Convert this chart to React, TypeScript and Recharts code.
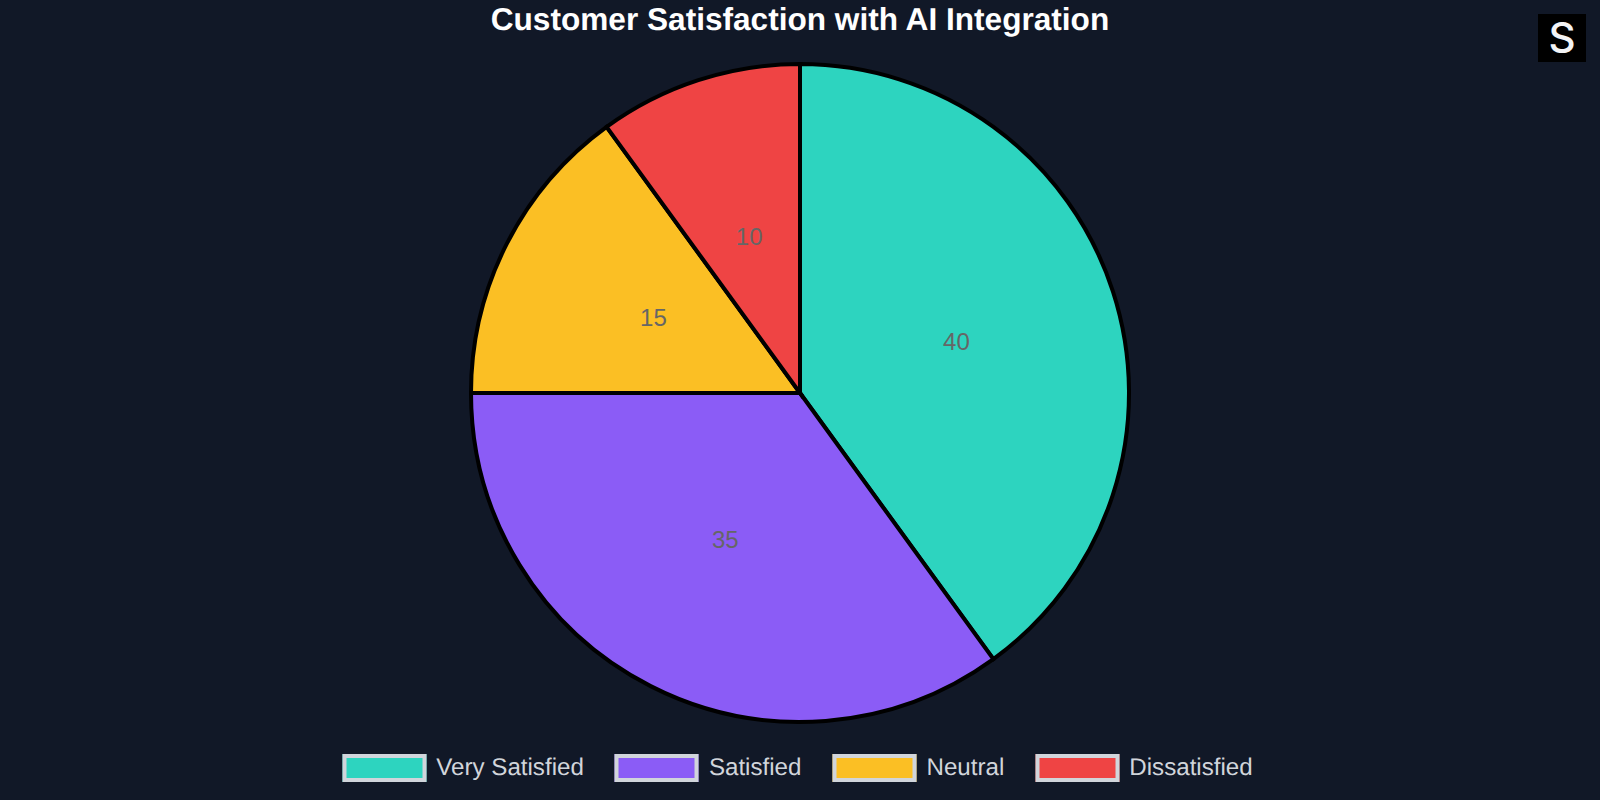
import React from "react";
import { PieChart, Pie, Cell, Legend } from "recharts";

const categories = ["Very Satisfied", "Satisfied", "Neutral", "Dissatisfied"];
const values = [40, 35, 15, 10];
const colors = ["#2DD4BF", "#8B5CF6", "#FBBF24", "#EF4444"];
const data = categories.map((name, i) => ({ name, value: values[i] }));
const FONT = '"Liberation Sans", Arial, sans-serif';
const RAD = Math.PI / 180;

const renderLabel = (p: any) => {
  const r = p.outerRadius / 2;
  const x = p.cx + r * Math.cos(-p.midAngle * RAD);
  const y = p.cy + r * Math.sin(-p.midAngle * RAD) - 0.4;
  return (
    <text x={x} y={y} fill="#666666" fontSize={24} fontFamily={FONT} textAnchor="middle" dominantBaseline="central">
      {p.value}
    </text>
  );
};

const renderLegend = () => (
  <div style={{ display: "flex", justifyContent: "center", alignItems: "center", fontFamily: FONT, transform: "translateX(-2.5px)" }}>
    {categories.map((c, i) => (
      <div key={c} style={{ display: "flex", alignItems: "center", marginRight: i < categories.length - 1 ? 31 : 0 }}>
        <span style={{ boxSizing: "border-box", width: 84, height: 28, background: colors[i], border: "4px solid #D1D5DB", marginRight: 10 }} />
        <span style={{ color: "#D1D5DB", fontSize: 24.15, lineHeight: "30px", whiteSpace: "nowrap", textRendering: "geometricPrecision" }}>{c}</span>
      </div>
    ))}
  </div>
);

export default function App() {
  return (
    <div style={{ position: "absolute", left: 0, top: 0, width: 1600, height: 800, background: "#111827", overflow: "hidden" }}>
      <div style={{ position: "absolute", left: 0, top: 0, width: 1600, textAlign: "center", fontFamily: FONT, fontWeight: 700, fontSize: 31.6, lineHeight: "38px", color: "#FFFFFF", textRendering: "geometricPrecision" }}>
        Customer Satisfaction with AI Integration
      </div>
      <PieChart width={1600} height={800} margin={{ top: 0, right: 0, bottom: 0, left: 0 }}>
        <Pie
          data={data}
          dataKey="value"
          nameKey="name"
          cx={800}
          cy={393}
          innerRadius={0}
          outerRadius={329}
          startAngle={90}
          endAngle={-270}
          stroke="#000000"
          strokeWidth={4}
          label={renderLabel}
          labelLine={false}
          isAnimationActive={false}
        >
          {data.map((d, i) => (
            <Cell key={d.name} fill={colors[i]} stroke="#000000" strokeWidth={4} />
          ))}
        </Pie>
        <Legend content={renderLegend} verticalAlign="bottom" wrapperStyle={{ bottom: 17, left: 0, width: 1600 }} />
      </PieChart>
      <div style={{ position: "absolute", left: 1538, top: 14, width: 48, height: 48, background: "#000000", color: "#F3F4F6", fontFamily: "Inter, sans-serif", fontWeight: 500, fontSize: 42, lineHeight: "48px", textAlign: "center" }}>
        S
      </div>
    </div>
  );
}
